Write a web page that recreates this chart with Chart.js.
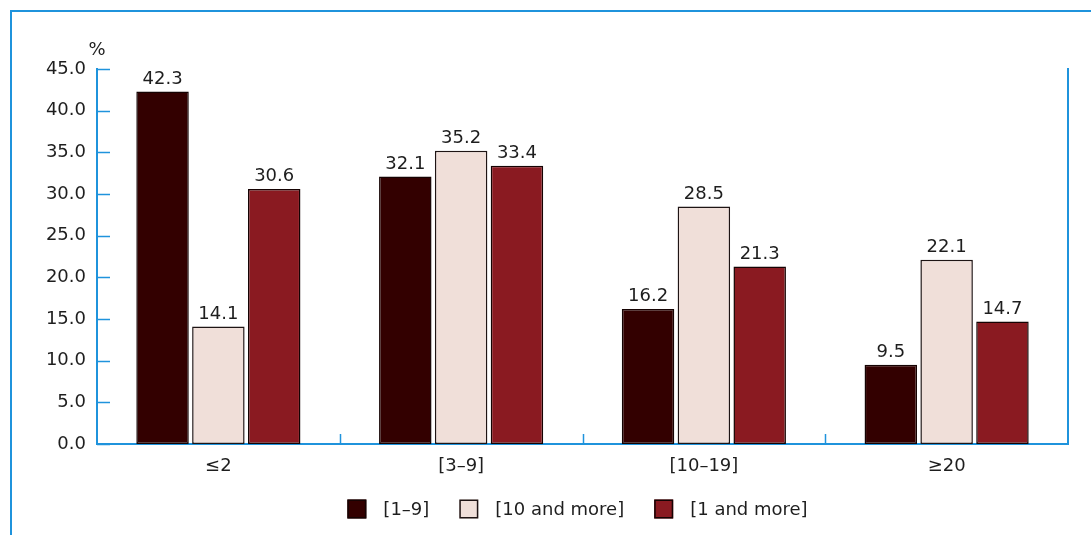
<!DOCTYPE html>
<html>
<head>
<meta charset="utf-8">
<script src="https://cdn.jsdelivr.net/npm/chart.js@4/dist/chart.umd.min.js"></script>
<style>
  html, body { margin: 0; padding: 0; background: #ffffff; }
  #wrap { width: 1091px; height: 535px; }
</style>
</head>
<body>
<div id="wrap"><canvas id="chart" width="1091" height="535"></canvas></div>
<script>
// Establishment size groups on the x axis
const categories = ['≤2', '[3–9]', '[10–19]', '≥20'];

// Series labels
const seriesNames = ['[1–9]', '[10 and more]', '[1 and more]'];

// Shares in percent for each series
const values19 = [42.3, 32.1, 16.2, 9.5];
const values10plus = [14.1, 35.2, 28.5, 22.1];
const values1plus = [30.6, 33.4, 21.3, 14.7];

// Y axis ticks
const yTicks = [0, 5, 10, 15, 20, 25, 30, 35, 40, 45];

const FONT = 'DejaVu Sans';
const FSIZE = 18;
const BLUE = '#1f93dc';
const TEXT = '#1e1e1e';
const seriesColors = ['#330000', '#f0dfd9', '#8a1a21'];
const seriesBorders = ['#150303', '#1e1414', '#150303'];

// Outer frame, right axis line and inward tick marks
const framePlugin = {
  id: 'frame',
  beforeDraw(chart) {
    const ctx = chart.ctx;
    ctx.save();
    ctx.strokeStyle = BLUE;
    ctx.lineWidth = 2;
    ctx.beginPath();
    ctx.moveTo(11, 535);
    ctx.lineTo(11, 11);
    ctx.lineTo(1091, 11);
    ctx.stroke();
    ctx.restore();
  },
  afterDraw(chart) {
    const ctx = chart.ctx;
    const area = chart.chartArea;
    const y = chart.scales.y;
    const x = chart.scales.x;
    ctx.save();
    ctx.strokeStyle = BLUE;
    ctx.lineWidth = 2;
    // right axis line
    ctx.beginPath();
    ctx.moveTo(area.right, area.top - 1);
    ctx.lineTo(area.right, area.bottom);
    ctx.stroke();
    // y ticks pointing into the plot
    ctx.lineWidth = 1.5;
    y.ticks.forEach(t => {
      const py = Math.round(y.getPixelForValue(t.value)) + 0.5;
      ctx.beginPath();
      ctx.moveTo(area.left, py);
      ctx.lineTo(area.left + 13, py);
      ctx.stroke();
    });
    // category boundary ticks pointing up
    for (let i = 1; i < categories.length; i++) {
      const px = Math.round((x.getPixelForValue(i - 1) + x.getPixelForValue(i)) / 2) + 0.5;
      ctx.beginPath();
      ctx.moveTo(px, area.bottom);
      ctx.lineTo(px, area.bottom - 10);
      ctx.stroke();
    }
    // unit label above the y axis
    ctx.fillStyle = TEXT;
    ctx.font = FSIZE + 'px "' + FONT + '"';
    ctx.textAlign = 'center';
    ctx.textBaseline = 'alphabetic';
    ctx.fillText('%', area.left, 55);
    ctx.restore();
  }
};

// Value labels above bars
const valueLabelPlugin = {
  id: 'valueLabels',
  afterDatasetsDraw(chart) {
    const ctx = chart.ctx;
    ctx.save();
    ctx.fillStyle = TEXT;
    ctx.font = FSIZE + 'px "' + FONT + '"';
    ctx.textAlign = 'center';
    ctx.textBaseline = 'alphabetic';
    chart.data.datasets.forEach((ds, di) => {
      const meta = chart.getDatasetMeta(di);
      meta.data.forEach((bar, i) => {
        ctx.fillText(ds.data[i].toFixed(1), bar.x, bar.y - 8);
      });
    });
    ctx.restore();
  }
};

// Legend row below the axis
const legendPlugin = {
  id: 'legendRow',
  afterDraw(chart) {
    const ctx = chart.ctx;
    const area = chart.chartArea;
    ctx.save();
    ctx.font = FSIZE + 'px "' + FONT + '"';
    const box = 19, boxGap = 17, itemGap = 30;
    const items = chart.data.datasets.map(ds => ({
      text: ds.label, fill: ds.backgroundColor, stroke: ds.borderColor,
      w: ctx.measureText(ds.label).width
    }));
    let total = 0;
    items.forEach((it, i) => { total += box + boxGap + it.w + (i ? itemGap : 0); });
    let x = (area.left + area.right) / 2 - total / 2 - 5;
    const cy = 509;
    items.forEach(it => {
      ctx.fillStyle = it.fill;
      ctx.fillRect(x, cy - box / 2, box, box);
      ctx.strokeStyle = it.stroke;
      ctx.lineWidth = 1.5;
      ctx.strokeRect(x + 0.75, cy - box / 2 + 0.75, box - 1.5, box - 1.5);
      ctx.fillStyle = TEXT;
      ctx.textAlign = 'left';
      ctx.textBaseline = 'middle';
      ctx.fillText(it.text, x + box + boxGap, cy + 1);
      x += box + boxGap + it.w + itemGap;
    });
    ctx.restore();
  }
};

const seriesValues = [values19, values10plus, values1plus];

new Chart(document.getElementById('chart'), {
  type: 'bar',
  data: {
    labels: categories,
    datasets: seriesNames.map((name, i) => ({
      label: name,
      data: seriesValues[i],
      backgroundColor: seriesColors[i],
      borderColor: seriesBorders[i],
      borderWidth: 1.5,
      borderSkipped: false,
      categoryPercentage: 0.69,
      barPercentage: 0.94
    }))
  },
  options: {
    responsive: false,
    animation: false,
    layout: { padding: { top: 69, right: 23, left: 0, bottom: 51 } },
    plugins: {
      legend: { display: false },
      tooltip: { enabled: false }
    },
    scales: {
      x: {
        grid: { display: false, drawTicks: false },
        border: { display: true, color: BLUE, width: 2 },
        ticks: { color: TEXT, font: { family: FONT, size: FSIZE }, padding: 12 },
        afterFit(scale) { scale.height = 40; }
      },
      y: {
        min: 0,
        max: 45,
        afterBuildTicks(scale) { scale.ticks = yTicks.map(v => ({ value: v })); },
        grid: { display: false, drawTicks: false },
        border: { display: true, color: BLUE, width: 2 },
        ticks: {
          color: TEXT,
          font: { family: FONT, size: FSIZE },
          padding: 11,
          callback: v => Number(v).toFixed(1)
        },
        afterFit(scale) { scale.width = 97; }
      }
    }
  },
  plugins: [framePlugin, valueLabelPlugin, legendPlugin]
});
</script>
</body>
</html>
